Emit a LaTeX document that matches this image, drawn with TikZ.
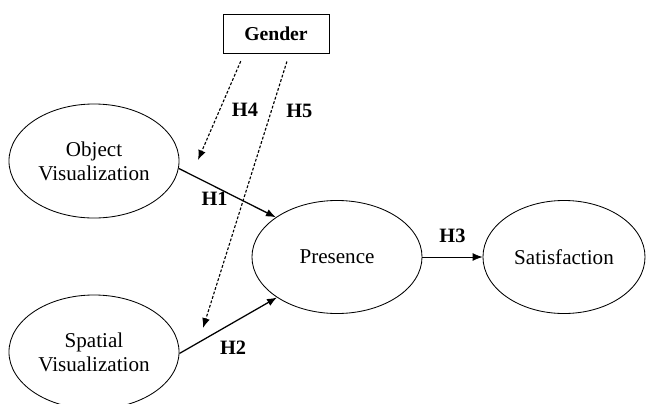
\documentclass[tikz,border=0pt]{standalone}
\usepackage{fontspec}
\setmainfont{Liberation Serif}
\usetikzlibrary{shapes.geometric, arrows.meta}
\tikzset{
    every node/.style={font=\fontsize{15}{17}\selectfont}, % Text size of the constructs
    construct/.style={ % Latent variables
        draw, ellipse, semithick,
        inner sep=0pt, align=center,
        minimum width=4.25cm, minimum height=2.85cm
    },
    moderator/.style={ % Boxed variable on top
        draw, rectangle, semithick,
        minimum width=2.65cm, minimum height=0.975cm,
        font=\fontsize{14}{16}\selectfont\bfseries
    },
    hyp/.style={font=\fontsize{14.5}{16}\selectfont\bfseries}, % Hypothesis labels
    every edge/.style={ % Direct effects
        draw,
        -{Latex[length=7pt,width=5.5pt]},
        line width=0.9pt
    },
    moderation/.style={ % Dotted paths from the moderator
        draw,
        -{Latex[length=7pt,width=5.5pt]},
        line width=0.8pt,
        dash pattern=on 2pt off 1.3pt,
        shorten <=6pt
    }
}
\begin{document}
\begin{tikzpicture}[x=0.025cm, y=-0.025cm]
    \useasboundingbox (0,0) rectangle (646,403);
    \node[moderator] (gen) at (276,33.5) {Gender};
    \node[construct] (ov) at (94,161) {Object\\Visualization};
    \node[construct] (sv) at (94,352) {Spatial\\Visualization};
    \node[construct, minimum height=2.825cm] (pres) at (337,257) {Presence};
    \node[construct, minimum width=4.05cm, minimum height=2.825cm] (sat) at (564,257) {Satisfaction};
    \coordinate (h4end) at (198,160);
    \coordinate (h5end) at (203,328);
    \draw   (ov.-5)   edge node[hyp, pos=0.37, below]            {H1} (pres.147)
            (sv.-1)   edge node[hyp, pos=0.55, below=9pt]        {H2} (pres.214)
            (pres.east) edge[line width=0.5pt] node[hyp, above=6.5pt] {H3} (sat.west);
    \draw[moderation] (gen.212) -- node[hyp, pos=0.53, right=5pt] {H4} (h4end);
    \draw[moderation] (gen.-56) -- node[hyp, pos=0.21, right=7pt] {H5} (h5end);
\end{tikzpicture}
\end{document}
